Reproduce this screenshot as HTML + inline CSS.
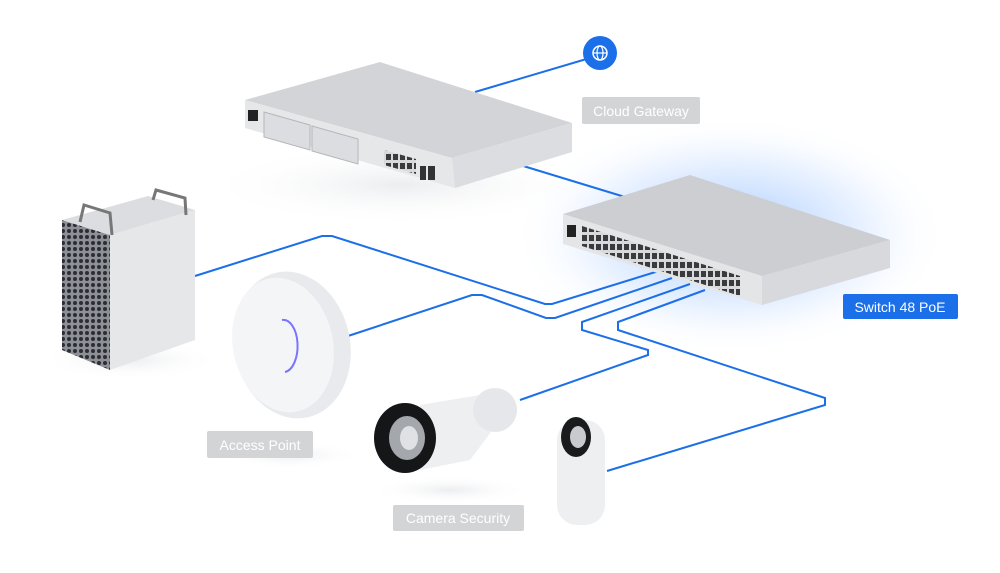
<!DOCTYPE html>
<html><head><meta charset="utf-8"><style>
html,body{margin:0;padding:0;background:#fff;width:1000px;height:573px;overflow:hidden}
svg{display:block}
text{font-family:"Liberation Sans",sans-serif}
</style></head><body>
<svg width="1000" height="573" viewBox="0 0 1000 573" xmlns="http://www.w3.org/2000/svg">
<defs>
<radialGradient id="glow" cx="0.5" cy="0.5" r="0.5">
<stop offset="0" stop-color="#3d8bff" stop-opacity="0.5"/>
<stop offset="0.6" stop-color="#8fbcff" stop-opacity="0.22"/>
<stop offset="1" stop-color="#fff" stop-opacity="0"/>
</radialGradient>
<radialGradient id="shadow" cx="0.5" cy="0.5" r="0.5">
<stop offset="0" stop-color="#d4d7dc" stop-opacity="0.45"/>
<stop offset="1" stop-color="#fff" stop-opacity="0"/>
</radialGradient>
<pattern id="holes" width="6" height="6" patternUnits="userSpaceOnUse">
<rect width="6" height="6" fill="#8d9096"/><circle cx="3" cy="3" r="2" fill="#2c2e33"/>
</pattern>
<pattern id="ports" width="7" height="9" patternUnits="userSpaceOnUse">
<rect width="7" height="9" fill="#d8d9db"/><rect x="1" y="1" width="5" height="6" fill="#3a3b3e"/>
</pattern>
</defs>
<ellipse cx="730" cy="235" rx="220" ry="120" fill="url(#glow)"/>
<ellipse cx="400" cy="185" rx="200" ry="40" fill="url(#shadow)"/>
<g fill="none" stroke="#1b6fe8" stroke-width="2">
<path d="M600 55 L475 92"/>
<path d="M520 165 L625 197"/>
<path d="M195 276 L322 236 L332 236 L545 304 L552 304 L662 270"/>
<path d="M345 337 L472 295 L482 295 L546 318 L555 318 L672 278"/>
<path d="M520 400 L648 355 L648 350 L582 330 L582 322 L690 284"/>
<path d="M607 471 L825 405 L825 398 L618 330 L618 322 L705 290"/>
</g>
<circle cx="600" cy="53" r="17" fill="#1b6fe8"/>
<circle cx="600" cy="53" r="7" fill="none" stroke="#fff" stroke-width="1.5"/>
<ellipse cx="600" cy="53" rx="3" ry="7" fill="none" stroke="#fff" stroke-width="1.2"/>
<line x1="593" y1="53" x2="607" y2="53" stroke="#fff" stroke-width="1.2"/>
<!-- gateway -->
<polygon points="245,100 380,62 572,123 452,158" fill="#d3d4d7"/>
<polygon points="245,100 452,158 455,188 245,128" fill="#e6e7e9"/>
<polygon points="452,158 572,123 572,152 455,188" fill="#dcdde0"/>
<rect x="248" y="110" width="10" height="11" fill="#222"/>
<polygon points="264,112 310,125 310,150 264,137" fill="#dcdde0" stroke="#b5b6b9"/>
<polygon points="312,126 358,139 358,164 312,151" fill="#dcdde0" stroke="#b5b6b9"/>
<polygon points="384,150 416,159 416,174 384,165" fill="url(#ports)"/>
<g fill="#333"><rect x="420" y="166" width="6" height="14"/><rect x="428" y="166" width="7" height="14"/></g>
<!-- switch -->
<polygon points="563,214 690,175 890,240 762,276" fill="#cdced1"/>
<polygon points="563,214 762,276 762,305 563,244" fill="#e4e5e7"/>
<polygon points="762,276 890,240 890,268 762,305" fill="#d8d9dc"/>
<rect x="567" y="225" width="9" height="12" fill="#222"/>
<polygon points="582,226 740,276 740,296 582,246" fill="url(#ports)"/>
<!-- mac pro -->
<ellipse cx="130" cy="360" rx="90" ry="20" fill="url(#shadow)"/>
<polygon points="62,220 110,235 110,370 62,350" fill="url(#holes)"/>
<polygon points="110,235 195,210 195,340 110,370" fill="#e6e7e9"/>
<polygon points="62,220 148,196 195,210 110,235" fill="#dcdde0"/>
<path d="M80 222 L84 205 L110 213 L112 235" fill="none" stroke="#777" stroke-width="3"/>
<path d="M153 200 L156 190 L185 198 L186 215" fill="none" stroke="#777" stroke-width="3"/>
<!-- access point -->
<ellipse cx="290" cy="455" rx="70" ry="14" fill="url(#shadow)"/>
<ellipse cx="292" cy="345" rx="58" ry="74" fill="#e9eaee" transform="rotate(-12 292 345)"/>
<ellipse cx="283" cy="345" rx="50" ry="68" fill="#f4f5f7" transform="rotate(-12 283 345)"/>
<path d="M282 320 A14 26 0 0 1 285 372" fill="none" stroke="#7a74ff" stroke-width="2"/>
<!-- camera -->
<ellipse cx="450" cy="490" rx="80" ry="14" fill="url(#shadow)"/>
<path d="M420 405 L480 395 L500 420 L470 460 L420 470 Z" fill="#eeeff1"/>
<ellipse cx="495" cy="410" rx="22" ry="22" fill="#e6e7ea"/>
<ellipse cx="405" cy="438" rx="31" ry="35" fill="#151618"/>
<ellipse cx="407" cy="438" rx="18" ry="22" fill="#a4a7ab"/>
<ellipse cx="409" cy="438" rx="9" ry="12" fill="#e0e1e4"/>
<!-- doorbell -->
<rect x="557" y="420" width="48" height="105" rx="20" fill="#eeeff1"/>
<ellipse cx="576" cy="437" rx="15" ry="20" fill="#1a1b1d"/>
<ellipse cx="578" cy="437" rx="8" ry="11" fill="#c9cacd"/>
<!-- labels -->
<rect x="582" y="97" width="118" height="27" rx="2" fill="#d3d4d6"/>
<text x="641" y="116" font-size="14" fill="#fff" text-anchor="middle">Cloud Gateway</text>
<rect x="207" y="431" width="106" height="27" rx="2" fill="#d3d4d6"/>
<text x="260" y="450" font-size="14" fill="#fff" text-anchor="middle">Access Point</text>
<rect x="393" y="505" width="131" height="26" rx="2" fill="#d3d4d6"/>
<text x="458" y="523" font-size="14" fill="#fff" text-anchor="middle">Camera Security</text>
<rect x="843" y="294" width="115" height="25" rx="2" fill="#1b6fe8"/>
<text x="900" y="312" font-size="14" fill="#fff" text-anchor="middle">Switch 48 PoE</text>
</svg>
</body></html>
